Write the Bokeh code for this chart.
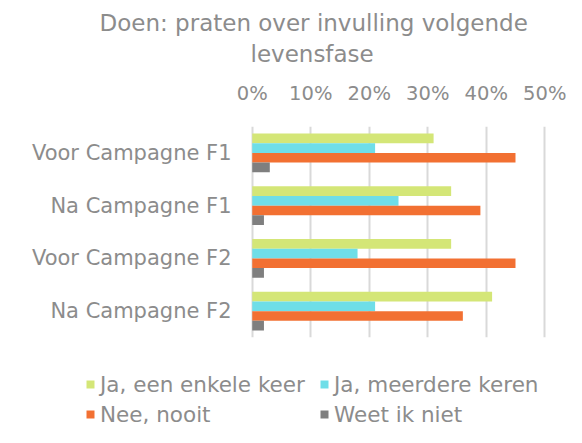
from bokeh.plotting import figure
from bokeh.layouts import column
from bokeh.models import Range1d, FactorRange, FixedTicker, Title, Legend, LegendItem, ColumnDataSource
from bokeh.transform import dodge
from bokeh.embed import file_html
from bokeh.resources import INLINE

categories = ["Voor Campagne F1", "Na Campagne F1", "Voor Campagne F2", "Na Campagne F2"]
series_names = ["Ja, een enkele keer", "Ja, meerdere keren", "Nee, nooit", "Weet ik niet"]
ja_enkele = [31, 34, 34, 41]
ja_meerdere = [21, 25, 18, 21]
nee_nooit = [45, 39, 45, 36]
weet_niet = [3, 2, 2, 2]
x_ticks = [0, 10, 20, 30, 40, 50]
title_line1 = "Doen: praten over invulling volgende"
title_line2 = "levensfase"

colors = ["#D4E677", "#6FDEE8", "#F27032", "#7F7F7F"]
text_color = "#8C8C8C"
FONT = "DejaVu Sans"

p = figure(width=566, height=345, output_backend="svg", toolbar_location=None,
           y_range=FactorRange(factors=list(reversed(categories))),
           x_range=Range1d(-0.3, 50.3), x_axis_location="above",
           min_border_left=250, min_border_right=20, min_border_top=126, min_border_bottom=8)
p.frame_align = False

p.title.text = title_line1
p.title.align = "left"
p.title.offset = -151
p.title.text_font = FONT
p.title.text_font_size = "23px"
p.title.text_font_style = "normal"
p.title.text_color = text_color
p.title.standoff = -16

t2 = Title(text=title_line2, align="left", offset=0, text_font=FONT,
           text_font_size="23px", text_font_style="normal", text_color=text_color, standoff=23)
p.add_layout(t2, "above")

series = [ja_enkele, ja_meerdere, nee_nooit, weet_niet]
h = 0.183
offsets = [1.5 * h, 0.5 * h, -0.5 * h, -1.5 * h]
for name, vals, col, off in zip(series_names, series, colors, offsets):
    src = ColumnDataSource({"cat": categories, "val": vals})
    p.hbar(y=dodge("cat", off, range=p.y_range), left=0, right="val", height=h,
           source=src, fill_color=col, line_color=None)

p.xaxis.ticker = FixedTicker(ticks=x_ticks)
p.xaxis.major_label_overrides = {t: f"{t}%" for t in x_ticks}
p.xaxis.axis_line_color = None
p.xaxis.major_tick_line_color = None
p.xaxis.minor_tick_line_color = None
p.xaxis.major_label_standoff = 16
p.xaxis.major_label_text_font = FONT
p.xaxis.major_label_text_font_size = "19.5px"
p.xaxis.major_label_text_color = text_color

p.yaxis.axis_line_color = None
p.yaxis.major_tick_line_color = None
p.yaxis.minor_tick_line_color = None
p.yaxis.major_label_standoff = 13
p.yaxis.major_label_text_font = FONT
p.yaxis.major_label_text_font_size = "21px"
p.yaxis.major_label_text_color = text_color

p.xgrid.ticker = FixedTicker(ticks=x_ticks)
p.xgrid.grid_line_color = "#D9D9D9"
p.xgrid.grid_line_width = 2
p.ygrid.grid_line_color = None
p.outline_line_color = None

# legend panel below the chart (its own frame spans the whole strip)
lp = figure(width=566, height=82, output_backend="svg", toolbar_location=None,
            x_range=Range1d(0, 1), y_range=Range1d(0, 1),
            x_axis_location=None, y_axis_location=None,
            min_border_left=0, min_border_right=0, min_border_top=0, min_border_bottom=0)
lp.frame_align = False
lp.grid.visible = False
lp.outline_line_color = None
items = []
for name, col in zip(series_names, colors):
    # zero-size swatch carrier: only its legend glyph is shown
    r = lp.hbar(y=[0], left=[0], right=[0], height=0, fill_color=col, line_color=None)
    items.append(LegendItem(label=name, renderers=[r]))

lg = Legend(items=items, location=(85, -2), orientation="horizontal", ncols=2,
            glyph_width=10, glyph_height=10, label_standoff=5, spacing=0,
            label_width=219, label_height=30, padding=0, margin=0, border_line_color=None,
            background_fill_alpha=0, label_text_font=FONT, label_text_font_size="21.5px",
            label_text_color=text_color)
lp.add_layout(lg)

layout = column(p, lp, spacing=0)
open("out.html", "w").write(file_html(layout, INLINE))
